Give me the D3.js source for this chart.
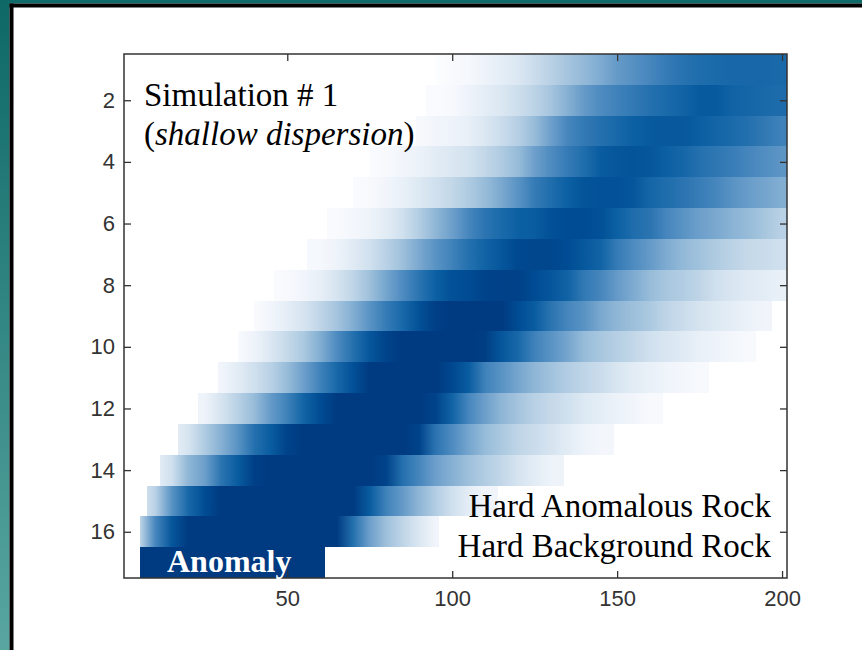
<!DOCTYPE html>
<html>
<head>
<meta charset="utf-8">
<script src="https://cdn.jsdelivr.net/npm/d3@7"></script>
<style>
  html, body { margin: 0; padding: 0; background: #ffffff; }
  svg { display: block; }
</style>
</head>
<body>
<svg id="chart" width="862" height="650"></svg>
<script>
// ---------------- DATA ----------------
// Depth rows (1 = top, 17 = anomaly row at bottom)
const rowIds = [1,2,3,4,5,6,7,8,9,10,11,12,13,14,15,16,17];
// column where each row's coloured band begins / ends
const rowStart = [95, 92, 89, 75, 70, 62, 56, 46, 40, 35, 29, 23, 17, 11.5, 7.5, 5.5, 5.5];
const rowEnd   = [201.5, 201.5, 201.5, 201.5, 201.5, 201.5, 201.5, 201.5, 197, 192, 178, 164, 149, 134, 114, 96, 61.5];
// first sampled column of each row (samples every 5 columns after that)
const rowFirstCol = [95, 95, 90, 75, 70, 65, 60, 45, 40, 35, 30, 20, 15, 10, 5, 5, 5];
// intensity (0 = white, 1 = darkest) read at the sampled columns
const row01 = [0.02,0.04,0.06,0.10,0.14,0.18,0.24,0.30,0.36,0.41,0.46,0.52,0.56,0.60,0.65,0.69,0.72,0.74,0.75,0.75,0.75,0.74];
const row02 = [0.03,0.05,0.10,0.14,0.18,0.23,0.29,0.36,0.44,0.52,0.58,0.62,0.66,0.70,0.74,0.78,0.83,0.83,0.78,0.76,0.74,0.73];
const row03 = [0.05,0.08,0.10,0.13,0.18,0.24,0.31,0.40,0.50,0.60,0.66,0.70,0.75,0.80,0.83,0.84,0.84,0.81,0.77,0.74,0.70,0.66,0.62];
const row04 = [0.03,0.05,0.08,0.11,0.15,0.18,0.21,0.27,0.33,0.40,0.50,0.58,0.65,0.72,0.82,0.85,0.86,0.85,0.80,0.76,0.70,0.67,0.64,0.60,0.57,0.54];
const row05 = [0.03,0.05,0.08,0.12,0.17,0.22,0.27,0.33,0.40,0.47,0.55,0.65,0.72,0.80,0.86,0.87,0.87,0.85,0.76,0.72,0.68,0.64,0.60,0.55,0.51,0.48,0.45];
const row06 = [0.04,0.07,0.10,0.15,0.22,0.32,0.42,0.50,0.60,0.68,0.74,0.80,0.82,0.88,0.90,0.90,0.88,0.80,0.72,0.68,0.60,0.55,0.50,0.47,0.43,0.40,0.35,0.30];
const row07 = [0.06,0.10,0.16,0.22,0.30,0.38,0.47,0.55,0.62,0.70,0.78,0.85,0.92,0.93,0.93,0.90,0.84,0.78,0.65,0.58,0.52,0.46,0.41,0.37,0.33,0.29,0.26,0.24,0.22];
const row08 = [0.03,0.05,0.08,0.13,0.20,0.28,0.38,0.48,0.58,0.68,0.80,0.88,0.90,0.95,0.96,0.96,0.90,0.85,0.78,0.66,0.60,0.52,0.46,0.40,0.35,0.32,0.28,0.22,0.19,0.16,0.14,0.12];
const row09 = [0.03,0.08,0.14,0.20,0.28,0.36,0.45,0.55,0.65,0.75,0.88,0.97,1,1,1,1,0.90,0.82,0.68,0.60,0.55,0.47,0.42,0.38,0.34,0.28,0.24,0.20,0.17,0.14,0.11,0.08];
const row10 = [0.04,0.10,0.18,0.26,0.34,0.45,0.58,0.70,0.85,0.95,1,1,1,1,1,0.98,0.85,0.75,0.62,0.55,0.48,0.40,0.35,0.31,0.27,0.22,0.19,0.16,0.12,0.10,0.07,0.05];
const row11 = [0.08,0.15,0.22,0.30,0.40,0.50,0.62,0.75,0.88,1,1,1,1,1,0.92,0.82,0.62,0.55,0.48,0.42,0.37,0.32,0.28,0.24,0.19,0.15,0.12,0.09,0.07,0.05];
const row12 = [0.08,0.10,0.20,0.30,0.40,0.52,0.62,0.78,0.90,1,1,1,1,1,1,0.95,0.78,0.60,0.50,0.42,0.36,0.30,0.26,0.22,0.17,0.14,0.11,0.08,0.05];
const row13 = [0.12,0.20,0.33,0.44,0.55,0.70,0.82,0.95,1,1,1,1,1,1,1,0.95,0.68,0.58,0.48,0.40,0.34,0.28,0.24,0.20,0.15,0.10,0.07];
const row14 = [0.12,0.22,0.42,0.50,0.68,0.82,0.97,1,1,1,1,1,1,1,0.95,0.70,0.60,0.50,0.44,0.38,0.32,0.27,0.20,0.15,0.10];
const row15 = [0.15,0.30,0.55,0.75,0.90,1,1,1,1,1,1,1,1,1,0.82,0.62,0.52,0.42,0.32,0.22,0.14,0.08];
const row16 = [0.25,0.60,0.85,1,1,1,1,1,1,1,1,1,1,0.70,0.50,0.38,0.28,0.18,0.08];
const row17 = [1,1,1,1,1,1,1,1,1,1,1,1];   // the anomaly itself
const rowValues = [row01,row02,row03,row04,row05,row06,row07,row08,row09,row10,row11,row12,row13,row14,row15,row16,row17];

const xTicks = [50, 100, 150, 200];
const yTicks = [2, 4, 6, 8, 10, 12, 14, 16];
const xDomain = [0.5, 201.5];
const yDomain = [0.5, 17.5];

// colour map stops (value -> colour)
const cmapVals   = [0, 0.1, 0.2, 0.3, 0.4, 0.5, 0.6, 0.7, 0.8, 0.9, 1.0];
const cmapColors = ["#ffffff","#eef3fa","#d6e4f0","#b9d1e5","#97bcd9","#6d9fcb","#4686bd","#2470ae","#0b60a3","#004c94","#003a80"];

// ---------------- DRAW ----------------
const svg = d3.select("#chart");
const W = 862, H = 650;

// slide frame
const defs = svg.append("defs");
const tealGrad = defs.append("linearGradient").attr("id","teal")
  .attr("x1",0).attr("y1",0).attr("x2",0).attr("y2",1);
tealGrad.append("stop").attr("offset",0).attr("stop-color","#0d6866");
tealGrad.append("stop").attr("offset",1).attr("stop-color","#59a6a1");
svg.append("rect").attr("x",0).attr("y",0).attr("width",W).attr("height",H).attr("fill","#ffffff");
svg.append("rect").attr("x",0).attr("y",0).attr("width",W).attr("height",3.5).attr("fill","#0f6b6a");
svg.append("rect").attr("x",0).attr("y",0).attr("width",9.5).attr("height",H).attr("fill","url(#teal)");
svg.append("rect").attr("x",9.5).attr("y",3.5).attr("width",W).attr("height",4).attr("fill","#000");
svg.append("rect").attr("x",9.5).attr("y",3.5).attr("width",4).attr("height",H).attr("fill","#000");

const plot = {left:124, right:787, top:54, bottom:578};
const x = d3.scaleLinear().domain(xDomain).range([plot.left, plot.right]);
const y = d3.scaleLinear().domain(yDomain).range([plot.top, plot.bottom]);
const color = d3.scaleLinear().domain(cmapVals).range(cmapColors).clamp(true);

defs.append("clipPath").attr("id","plotclip").append("rect")
  .attr("x",plot.left).attr("y",plot.top)
  .attr("width",plot.right-plot.left).attr("height",plot.bottom-plot.top);

const rows = rowIds.map((id,i) => ({
  id, start: rowStart[i], end: rowEnd[i],
  stops: rowValues[i].map((v,j) => ({col: rowFirstCol[i] + 5*j, v}))
}));

const gx0 = x(0), gx1 = x(200);
const grads = defs.selectAll("linearGradient.row").data(rows).join("linearGradient")
  .attr("class","row")
  .attr("id",(d,i)=>"rowg"+i)
  .attr("gradientUnits","userSpaceOnUse")
  .attr("x1",gx0).attr("x2",gx1).attr("y1",0).attr("y2",0);
grads.selectAll("stop").data(d=>d.stops).join("stop")
  .attr("offset", s => (x(s.col)-gx0)/(gx1-gx0))
  .attr("stop-color", s => color(s.v));

svg.append("g").attr("clip-path","url(#plotclip)")
  .selectAll("rect").data(rows).join("rect")
  .attr("x", d => x(d.start))
  .attr("width", d => x(d.end) - x(d.start))
  .attr("y", d => y(d.id - 0.5))
  .attr("height", d => y(d.id + 0.5) - y(d.id - 0.5))
  .attr("fill", (d,i) => "url(#rowg"+i+")")
  .attr("shape-rendering","crispEdges");

// axes (MATLAB style, ticks inward)
const axisFont = "'Liberation Sans', Arial, Helvetica, sans-serif";
function styleAxis(g){
  g.select(".domain").remove();
  g.selectAll(".tick line").attr("stroke","#333").attr("stroke-width",1.3);
  g.selectAll(".tick text").attr("fill","#333").attr("font-size",22).attr("font-family",axisFont);
}
svg.append("g").attr("transform",`translate(0,${plot.bottom})`)
  .call(d3.axisBottom(x).tickValues(xTicks).tickSize(-7).tickPadding(12))
  .call(styleAxis);
svg.append("g").attr("transform",`translate(0,${plot.top})`)
  .call(d3.axisTop(x).tickValues(xTicks).tickSize(-7).tickFormat(""))
  .call(styleAxis);
svg.append("g").attr("transform",`translate(${plot.left},0)`)
  .call(d3.axisLeft(y).tickValues(yTicks).tickSize(-7).tickPadding(9))
  .call(styleAxis);
svg.append("g").attr("transform",`translate(${plot.right},0)`)
  .call(d3.axisRight(y).tickValues(yTicks).tickSize(-7).tickFormat(""))
  .call(styleAxis);

svg.append("rect").attr("x",plot.left).attr("y",plot.top)
  .attr("width",plot.right-plot.left).attr("height",plot.bottom-plot.top)
  .attr("fill","none").attr("stroke","#333").attr("stroke-width",1.5);

// annotations
const serif = "'Liberation Serif', 'Times New Roman', Times, serif";
svg.append("text").attr("x",144).attr("y",106)
  .attr("font-family",serif).attr("font-size",33).attr("fill","#000")
  .text("Simulation # 1");
const t2 = svg.append("text").attr("x",144).attr("y",145)
  .attr("font-family",serif).attr("font-size",33).attr("fill","#000");
t2.append("tspan").text("(");
t2.append("tspan").attr("font-style","italic").text("shallow dispersion");
t2.append("tspan").text(")");

svg.append("text").attr("x",771).attr("y",517).attr("text-anchor","end")
  .attr("font-family",serif).attr("font-size",33).attr("fill","#000")
  .text("Hard Anomalous Rock");
svg.append("text").attr("x",771).attr("y",557).attr("text-anchor","end")
  .attr("font-family",serif).attr("font-size",33).attr("fill","#000")
  .text("Hard Background Rock");
svg.append("text").attr("x",167).attr("y",572)
  .attr("font-family",serif).attr("font-size",32).attr("font-weight","bold").attr("fill","#ffffff")
  .text("Anomaly");
</script>
</body>
</html>
